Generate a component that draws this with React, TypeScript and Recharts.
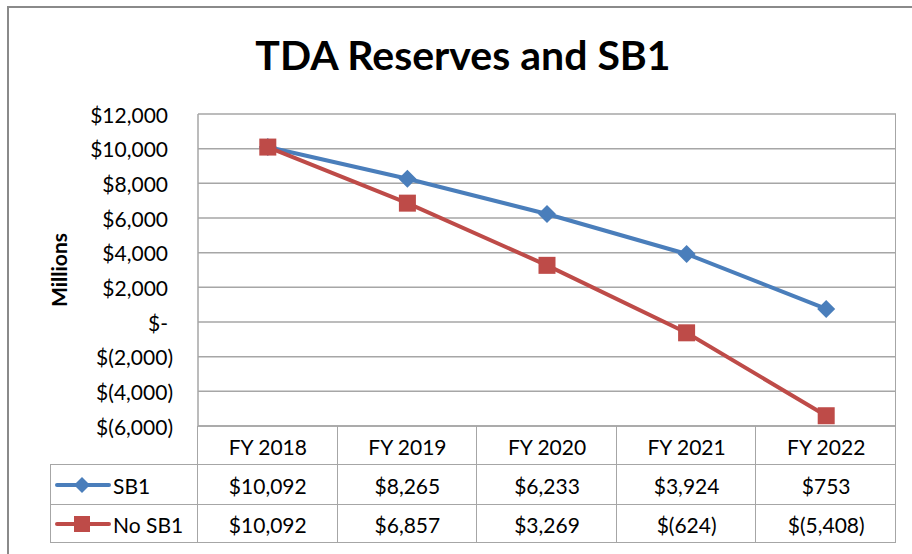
import { LineChart, Line, XAxis, YAxis, CartesianGrid } from "recharts";

const years = ["FY 2018", "FY 2019", "FY 2020", "FY 2021", "FY 2022"];
const sb1 = [10092, 8265, 6233, 3924, 753];
const noSb1 = [10092, 6857, 3269, -624, -5408];
const yTicks = [-6000, -4000, -2000, 0, 2000, 4000, 6000, 8000, 10000, 12000];
const seriesNames = ["SB1", "No SB1"];

const BLUE = "#4a7ebb";
const RED = "#be4b48";
const GRID = "#a6a6a6";
const FONT = "Lato, 'Liberation Sans', sans-serif";

const data = years.map((year, i) => ({ year, sb1: sb1[i], noSb1: noSb1[i] }));

// Excel accounting style
const money = (v: number) => {
  if (v === 0) return "$-";
  const s = Math.abs(v).toLocaleString("en-US");
  return v < 0 ? `$(${s})` : `$${s}`;
};

const YTick = (props: any) => {
  const { y, payload } = props;
  const v = payload.value;
  return (
    <text
      x={v < 0 ? 173 : 168}
      y={y}
      textAnchor="end"
      dominantBaseline="central"
      fontSize={21}
      fontFamily={FONT}
      fill="#000"
    >
      {money(v)}
    </text>
  );
};

const XTick = (props: any) => {
  const { x, payload } = props;
  return (
    <text x={x} y={446} textAnchor="middle" dominantBaseline="central" fontSize={21} fontFamily={FONT} fill="#000">
      {payload.value}
    </text>
  );
};

const Diamond = (props: any) => {
  const { cx, cy } = props;
  if (cx == null || cy == null) return null;
  const r = 9;
  return <polygon points={`${cx},${cy - r} ${cx + r},${cy} ${cx},${cy + r} ${cx - r},${cy}`} fill={BLUE} />;
};

const Square = (props: any) => {
  const { cx, cy } = props;
  if (cx == null || cy == null) return null;
  const s = 17;
  return <rect x={cx - s / 2} y={cy - s / 2} width={s} height={s} fill={RED} />;
};

const plotLeft = 198;
const plotRight = 896;
const plotTop = 114;
const plotBottom = 426;
const colW = (plotRight - plotLeft) / years.length;
const rowTops = [465, 505, 543];

export default function App() {
  const rows = [sb1, noSb1];
  return (
    <div style={{ position: "absolute", left: 0, top: 0, width: 912, height: 554, background: "#fff", overflow: "hidden", fontFamily: FONT }}>
      <div style={{ position: "absolute", left: 7, top: 6, width: 960, height: 600, borderTop: "2px solid #8a8a8a", borderLeft: "2px solid #8a8a8a" }} />
      <div style={{ position: "absolute", left: 0, width: 926, top: 30, textAlign: "center", fontSize: 41, fontWeight: 700, color: "#000" }}>
        TDA Reserves and SB1
      </div>
      <div style={{ position: "absolute", left: 58, top: 270, transform: "translate(-50%, -50%) rotate(-90deg)", fontSize: 21, fontWeight: 700, whiteSpace: "nowrap" }}>
        Millions
      </div>
      <div style={{ position: "absolute", left: 0, top: 0 }}>
        <LineChart width={912} height={554} data={data} margin={{ top: plotTop, left: plotLeft - 120, right: 912 - plotRight, bottom: 554 - plotBottom - 40 }}>
          <CartesianGrid vertical={false} stroke={GRID} strokeWidth={1.5} />
          <XAxis dataKey="year" height={40} tick={<XTick />} tickLine={false} axisLine={{ stroke: GRID, strokeWidth: 1.5 }} padding={{ left: colW / 2, right: colW / 2 }} interval={0} />
          <YAxis width={120} domain={[-6000, 12000]} ticks={yTicks} tick={<YTick />} tickLine={false} axisLine={{ stroke: GRID, strokeWidth: 1.5 }} interval={0} />
          <Line dataKey="sb1" name={seriesNames[0]} stroke={BLUE} strokeWidth={4} dot={<Diamond />} isAnimationActive={false} />
          <Line dataKey="noSb1" name={seriesNames[1]} stroke={RED} strokeWidth={4} dot={<Square />} isAnimationActive={false} />
        </LineChart>
      </div>
      {/* plot box right edge and table grid */}
      <div style={{ position: "absolute", left: plotRight - 1, top: plotTop, width: 0, height: rowTops[2] - plotTop, borderLeft: `1.5px solid ${GRID}` }} />
      {years.map((_, i) => (
        <div key={"v" + i} style={{ position: "absolute", left: plotLeft + colW * i - 1, top: plotBottom, width: 0, height: rowTops[2] - plotBottom, borderLeft: `1.5px solid ${GRID}` }} />
      ))}
      {rowTops.map((t) => (
        <div key={"h" + t} style={{ position: "absolute", left: 50, top: t - 1, width: plotRight - 50, height: 0, borderTop: `1.5px solid ${GRID}` }} />
      ))}
      <div style={{ position: "absolute", left: 50, top: rowTops[0], width: 0, height: rowTops[2] - rowTops[0], borderLeft: `1.5px solid ${GRID}` }} />
      {rows.map((vals, r) => {
        const top = rowTops[r];
        const h = rowTops[r + 1] - rowTops[r];
        return (
          <div key={"r" + r}>
            <div style={{ position: "absolute", left: 55, top, height: h, display: "flex", alignItems: "center", fontSize: 21 }}>
              <svg width={56} height={20} style={{ marginRight: 2 }}>
                <line x1={2} y1={10} x2={54} y2={10} stroke={r === 0 ? BLUE : RED} strokeWidth={4} strokeLinecap="round" />
                {r === 0 ? (
                  <polygon points="27,2 35,10 27,18 19,10" fill={BLUE} />
                ) : (
                  <rect x={19} y={2} width={16} height={16} fill={RED} />
                )}
              </svg>
              <span>{seriesNames[r]}</span>
            </div>
            {vals.map((v, i) => (
              <div key={i} style={{ position: "absolute", left: plotLeft + colW * i, top, width: colW, height: h, display: "flex", alignItems: "center", justifyContent: "center", fontSize: 21 }}>
                {money(v)}
              </div>
            ))}
          </div>
        );
      })}
    </div>
  );
}
